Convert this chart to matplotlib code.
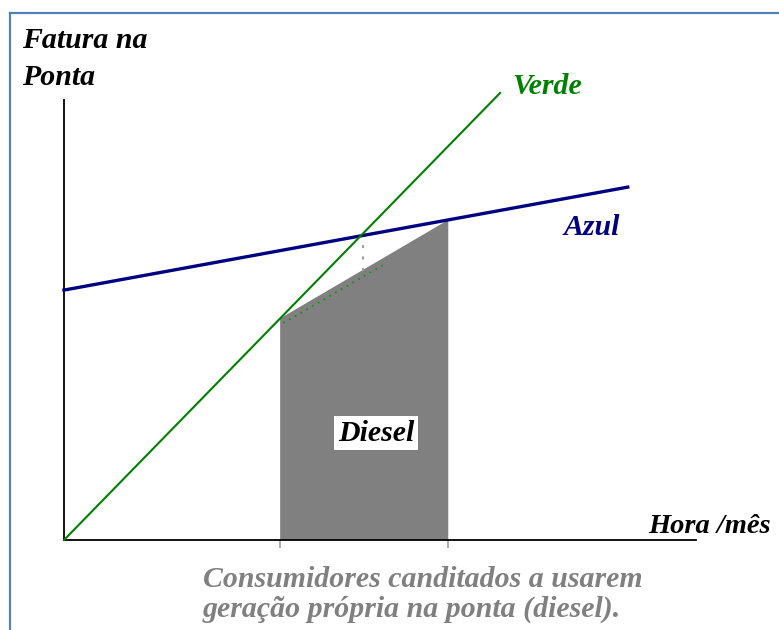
import matplotlib
matplotlib.use("Agg")
import matplotlib.pyplot as plt
from matplotlib.lines import Line2D

# conceptual data (hours per month vs. peak bill, arbitrary units)
verde_x = [0, 69.0]
verde_y = [0, 101.6]
azul_x = [0, 89.2]
azul_y = [56.8, 80.2]
diesel_x = [34.2, 60.8]          # range of hours where diesel pays off
cross_x = 46.9                   # verde / azul crossing
green_dots_x = [34.7, 50.5]
green_dots_y = [49.3, 62.5]

FONT = "Liberation Serif"
GREY = "#808080"


def verde(x):
    return verde_y[0] + (verde_y[1] - verde_y[0]) / (verde_x[1] - verde_x[0]) * (x - verde_x[0])


def azul(x):
    return azul_y[0] + (azul_y[1] - azul_y[0]) / (azul_x[1] - azul_x[0]) * (x - azul_x[0])


fig = plt.figure(figsize=(7.79, 6.30), dpi=100)
ax = fig.add_axes([64 / 779, 90 / 630, 632 / 779, 440 / 630])
ax.set_xlim(0, 100)
ax.set_ylim(0, 100)

# diesel area: below verde at the left end, below azul at the right end
x0, x1 = diesel_x
ax.fill([x0, x0, x1, x1], [0, verde(x0), azul(x1), 0], color=GREY, lw=0, zorder=1)
ax.plot(green_dots_x, green_dots_y, color="#1a8a1a", lw=1.2, ls=(0, (1, 3)), zorder=2)

# faint vertical from crossing down to the diesel area
top = verde(x0) + (azul(x1) - verde(x0)) * (cross_x - x0) / (x1 - x0)
ax.plot([cross_x + 0.4, cross_x + 0.4], [azul(cross_x) - 2, top], color="#a0a0a0",
        lw=1.5, ls=(0, (1.5, 4)), zorder=2)

ax.plot(azul_x, azul_y, color="#000080", lw=2.4, clip_on=False, zorder=3)
ax.plot(verde_x, verde_y, color="#008000", lw=1.5, clip_on=False, zorder=4)

for s in ["top", "right"]:
    ax.spines[s].set_visible(False)
for s in ["left", "bottom"]:
    ax.spines[s].set_linewidth(1.3)
ax.set_yticks([])
ax.set_xticks(diesel_x)
ax.set_xticklabels([])
ax.tick_params(axis="x", length=6, width=1.2, color="#a0a0a0", direction="out")

txt = dict(fontfamily=FONT, fontweight="bold", fontstyle="italic", fontsize=21.5)
ax.text(70.9, 101.4, "Verde", color="#008000", va="baseline", clip_on=False, **txt)
ax.text(79.1, 69.3, "Azul", color="#000080", va="baseline", **txt)
ax.text(92.4, 1.6, "Hora /mês", color="black", va="baseline", clip_on=False,
        **{**txt, "fontsize": 20.5})
ax.text(49.4, 24.3, "Diesel", color="black", ha="center", va="center",
        bbox=dict(facecolor="white", edgecolor="none", pad=2.5), **txt)

fig.text(22 / 779, 1 - 48 / 630, "Fatura na", va="baseline", **txt)
fig.text(22 / 779, 1 - 85 / 630, "Ponta", va="baseline", **txt)
fig.text(203 / 779, 1 - 587 / 630, "Consumidores canditados a usarem",
         color=GREY, va="baseline", **txt)
fig.text(203 / 779, 1 - 617 / 630, "geração própria na ponta (diesel).",
         color=GREY, va="baseline", **txt)

# blue frame on the top and left
fig.add_artist(Line2D([10 / 779, 10 / 779], [0, 1 - 13 / 630], color="#4f81bd", lw=1.6))
fig.add_artist(Line2D([10 / 779, 1], [1 - 13 / 630, 1 - 13 / 630], color="#4f81bd", lw=1.6))

fig.savefig("out.png", dpi=100)
